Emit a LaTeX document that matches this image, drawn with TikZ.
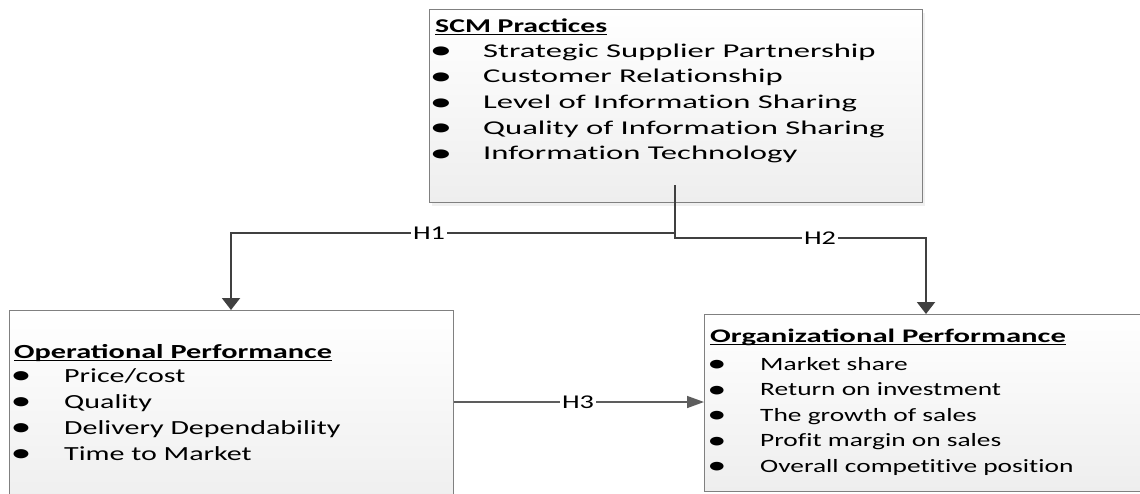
\documentclass[tikz,border=0pt]{standalone}
\usepackage{fontspec}
\usetikzlibrary{arrows.meta,shadows}
\setmainfont{Carlito}
% each box uses its own horizontal stretch of Carlito, without ligatures
\newfontfamily\scmfont[FakeStretch=1.675,Ligatures={NoCommon}]{Carlito}
\newfontfamily\opfont[FakeStretch=1.50,Ligatures={NoCommon}]{Carlito}
\newfontfamily\orgfont[FakeStretch=1.457,Ligatures={NoCommon}]{Carlito}
% headings
\newfontfamily\scmhead[FakeStretch=1.525]{Carlito Bold}
\newfontfamily\ophead[FakeStretch=1.515]{Carlito Bold}
\newfontfamily\orghead[FakeStretch=1.60]{Carlito Bold}
\newfontfamily\hfont[FakeStretch=1.45]{Carlito}
\newcommand\bul{\raisebox{-1.6pt}{\scalebox{1.4}[1.3]{•}}}
\definecolor{boxline}{HTML}{808080}
\definecolor{arrowgray}{HTML}{404040}
\definecolor{boxbottom}{HTML}{EEEEEE}
\begin{document}
\begin{tikzpicture}[x=1pt,y=-1pt,
  panel/.style={draw=boxline,line width=1.1pt,top color=white,bottom color=boxbottom,
    anchor=north west,inner sep=0pt},
  title/.style={anchor=base west,inner sep=0pt},
  item/.style={anchor=base west,inner sep=0pt},
  dot/.style={anchor=base,inner sep=0pt},
  uline/.style={line width=1.3pt},
  conn/.style={draw=arrowgray,line width=2pt},
  hlabel/.style={fill=white,inner xsep=2.5pt,inner ysep=1pt,font=\hfont\fontsize{19.5}{22}\selectfont}]
\clip (0,0) rectangle (1140,493);

% ---------- boxes ----------
\node[panel,minimum width=493pt,minimum height=193pt,
  drop shadow={opacity=0.12,shadow xshift=2pt,shadow yshift=-3pt}] (scm) at (429,9) {};
\node[panel,minimum width=444pt,minimum height=200pt] (op) at (9,310) {};
\node[panel,minimum width=450pt,minimum height=177pt] (org) at (704,314) {};

% ---------- SCM practices ----------
\node[title,font=\scmhead\fontsize{19.5}{24}\selectfont] (scmt) at (435,32) {SCM Practices};
\begin{scope}[font=\scmfont\fontsize{19.5}{24}\selectfont]
\foreach \y/\t [count=\i] in {57/{Strategic Supplier Partnership},
    82.7/{Customer Relationship},
    108.4/{Level of Information Sharing},
    134.1/{Quality of Information Sharing},
    159.8/{Information Technology}}{
  \node[dot] (scmb\i) at (441,\y) {\bul};
  \node[item] (scmi\i) at (483,\y) {\t};
}
\end{scope}

% ---------- Operational performance ----------
\node[title,font=\ophead\fontsize{20}{24}\selectfont] (opt) at (14,358) {Operational Performance};
\begin{scope}[font=\opfont\fontsize{20}{24}\selectfont]
\foreach \y/\t [count=\i] in {382/{Price/cost},
    408/{Quality},
    434/{Delivery Dependability},
    460/{Time to Market}}{
  \node[dot] (opb\i) at (21,\y) {\bul};
  \node[item] (opi\i) at (64,\y) {\t};
}
\end{scope}

% ---------- Organizational performance ----------
\node[title,font=\orghead\fontsize{19.2}{23}\selectfont] (orgt) at (710,342) {Organizational Performance};
\begin{scope}[font=\orgfont\fontsize{18.8}{23}\selectfont]
\foreach \y/\t [count=\i] in {370/{Market share},
    395.5/{Return on investment},
    421/{The growth of sales},
    446.5/{Profit margin on sales},
    472/{Overall competitive position}}{
  \node[dot] (orgb\i) at (717,\y) {\bul};
  \node[item] (orgi\i) at (760,\y) {\t};
}
\end{scope}

% underlined headings
\foreach \t in {scmt,opt,orgt}
  \draw[uline] ([yshift=-2.2pt]\t.base west) -- ([yshift=-2.2pt]\t.base east);

% ---------- connectors ----------
\coordinate (scmout) at (675,185);
\coordinate (split) at (675,233);
\coordinate (opin) at (231,233);
\coordinate (orgin) at (926,238);

\draw[conn,-{Triangle[width=18pt,length=12pt]}]
  (scmout) -- (split) -- (opin) -- (opin |- op.north);
\draw[conn,-{Triangle[width=18pt,length=12pt]}]
  (split) -- (675,238) -- (orgin) -- (orgin |- org.north);
\draw[draw=arrowgray!85,line width=1.5pt,-{Triangle[width=12pt,length=17pt]}]
  (op.east |- 0,402) -- (org.west |- 0,402);

\node[hlabel] (h1) at (429,233) {H1};
\node[hlabel] (h2) at (820,238) {H2};
\node[hlabel] (h3) at (578,402) {H3};
\end{tikzpicture}
\end{document}
